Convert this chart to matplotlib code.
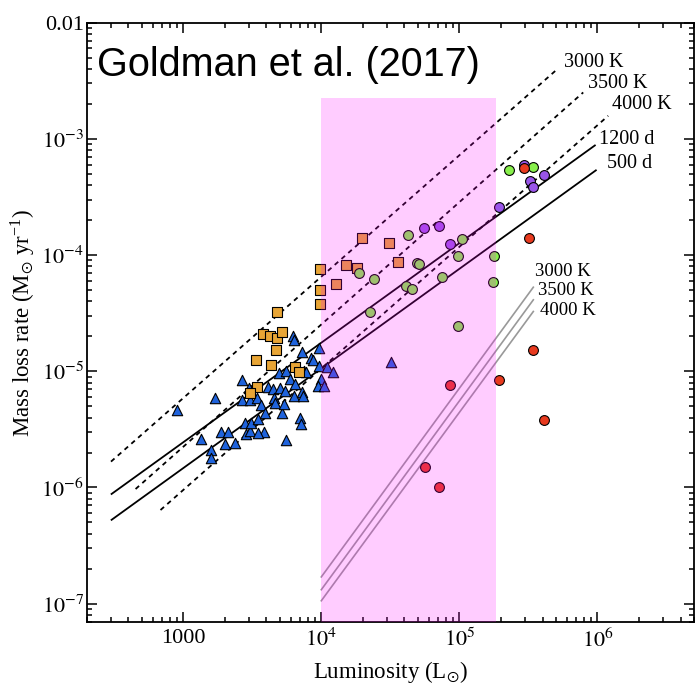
import numpy as np
import matplotlib
matplotlib.use("Agg")
import matplotlib.pyplot as plt
from matplotlib.ticker import LogLocator, FuncFormatter, NullFormatter

plt.rcParams['font.family'] = ['Liberation Serif', 'DejaVu Serif']
plt.rcParams['mathtext.fontset'] = 'stix'

# ---------- Data (luminosity in Lsun, mass loss rate in Msun/yr) ----------
tri_L = [906, 1356, 1602, 1594, 1693, 1876, 2101, 2006, 2361, 2672, 2685, 2981,
         3031, 2822, 2845, 3031, 3118, 3474, 3445, 3652, 3936, 3873, 3462, 4103,
         4475, 4519, 4595, 4912, 5052, 5199, 5401, 5491, 5585, 5585, 5970, 6220,
         6304, 6304, 6412, 7047, 7166, 7252, 7288, 7413, 7447, 7793, 8426, 8683,
         9562, 9562, 9953, 9463, 10510, 10990, 12150, 31900]
tri_M = [4.64e-6, 2.59e-6, 2.10e-6, 1.80e-6, 5.88e-6, 3.03e-6, 3.03e-6, 2.37e-6,
         2.40e-6, 8.36e-6, 5.65e-6, 7.21e-6, 5.71e-6, 3.61e-6, 2.87e-6, 3.07e-6,
         3.59e-6, 3.86e-6, 5.94e-6, 5.15e-6, 4.40e-6, 3.03e-6, 2.96e-6, 7.26e-6,
         6.98e-6, 5.88e-6, 5.36e-6, 9.73e-6, 7.16e-6, 4.36e-6, 5.22e-6, 6.82e-6,
         2.57e-6, 1.00e-5, 8.51e-6, 2.03e-5, 1.87e-5, 6.12e-6, 7.80e-6, 3.93e-6,
         3.52e-6, 1.46e-5, 6.62e-6, 6.12e-6, 1.00e-5, 9.83e-6, 1.29e-5, 1.24e-5,
         1.58e-5, 1.12e-5, 8.65e-6, 7.45e-6, 7.45e-6, 1.08e-5, 9.83e-6, 1.20e-5]

sq_L = [9835, 9721, 9721, 4783, 3763, 4228, 4783, 5199, 4674, 3350, 4350, 6412,
        6934, 3428, 3031, 19700, 30700, 15160, 18110, 35900, 12780]
sq_M = [7.60e-5, 5.02e-5, 3.83e-5, 3.21e-5, 2.09e-5, 2.00e-5, 1.94e-5, 2.18e-5,
        1.53e-5, 1.25e-5, 1.13e-5, 1.09e-5, 9.83e-6, 7.31e-6, 6.45e-6, 1.39e-4,
        1.28e-4, 8.22e-5, 7.69e-5, 8.66e-5, 5.69e-5]

pur_L = [55800, 71300, 85700, 194000, 295000, 322000, 343000, 412000]
pur_M = [1.72e-4, 1.79e-4, 1.25e-4, 2.60e-4, 5.92e-4, 4.30e-4, 3.86e-4, 4.93e-4]

grn_L = [42400, 18730, 23900, 49200, 50900, 105100, 97400, 179000, 41200, 45300,
         75400, 176000, 22600, 97400, 227000, 339000]
grn_M = [1.49e-4, 6.97e-5, 6.19e-5, 8.61e-5, 8.32e-5, 1.37e-4, 9.82e-5, 9.89e-5,
         5.43e-5, 5.08e-5, 6.49e-5, 5.83e-5, 3.24e-5, 2.47e-5, 5.36e-4, 5.75e-4]

red_L = [295000, 321000, 339000, 194000, 410000, 86100, 56200, 71000]
red_M = [5.58e-4, 1.39e-4, 1.51e-5, 8.34e-6, 3.79e-6, 7.55e-6, 1.51e-6, 1.00e-6]

# relations: endpoints (L, Mdot)
dash_L = {'3000 K': [300, 5.2e5], '3500 K': [452, 7.88e5], '4000 K': [685, 1.195e6]}
dash_M = {'3000 K': [1.67e-6, 4.05e-3], '3500 K': [9.7e-7, 2.51e-3], '4000 K': [6.4e-7, 1.58e-3]}
solid_L = {'1200 d': [303, 9.57e5], '500 d': [303, 9.73e5]}
solid_M = {'1200 d': [8.8e-7, 8.78e-4], '500 d': [5.27e-7, 5.36e-4]}
gray_L = [1e4, 3.43e5]
gray_M = {'3000 K': [1.70e-7, 5.29e-5], '3500 K': [1.32e-7, 4.12e-5], '4000 K': [1.06e-7, 3.27e-5]}

span_L = [1e4, 1.84e5]
span_top = 2.25e-3

# ---------- Plot ----------
fig = plt.figure(figsize=(6.95, 6.85), dpi=100)
ax = fig.add_axes([0.1247, 0.0924, 0.8739, 0.8745])
ax.set_xscale('log')
ax.set_yscale('log')
ax.set_xlim(200, 5e6)
ax.set_ylim(7e-8, 1e-2)

dash = (0, (2.6, 2.4))
for k in dash_L:
    ax.plot(dash_L[k], dash_M[k], color='black', lw=1.3, ls=dash, zorder=2)
for k in solid_L:
    ax.plot(solid_L[k], solid_M[k], color='black', lw=1.3, zorder=2)
for k in gray_M:
    ax.plot(gray_L, gray_M[k], color='#999999', lw=1.2, zorder=2)

ms = 50
ax.scatter(tri_L, tri_M, marker='^', s=56, c='#1f63dc', edgecolors='black', linewidths=0.8, zorder=3)
ax.scatter(sq_L, sq_M, marker='s', s=48, c='#e8a535', edgecolors='black', linewidths=0.8, zorder=3)
ax.scatter(pur_L, pur_M, marker='o', s=ms, c='#9a55ea', edgecolors='black', linewidths=0.8, zorder=3)
ax.scatter(grn_L, grn_M, marker='o', s=ms, c='#88f04c', edgecolors='black', linewidths=0.8, zorder=3)
ax.scatter(red_L, red_M, marker='o', s=ms, c='#e83a1e', edgecolors='black', linewidths=0.8, zorder=3)

# pink band drawn over everything
ax.fill_between(span_L, 7e-8, span_top, color='magenta', alpha=0.2, lw=0, zorder=10)

# line labels
fs = 14.5
ax.text(5.72e5, 4.54e-3, '3000 K', fontsize=fs, va='center', ha='left')
ax.text(8.57e5, 3.02e-3, '3500 K', fontsize=fs, va='center', ha='left')
ax.text(1.265e6, 1.99e-3, '4000 K', fontsize=fs, va='center', ha='left')
ax.text(1.03e6, 9.94e-4, '1200 d', fontsize=fs, va='center', ha='left')
ax.text(1.164e6, 6.19e-4, '500 d', fontsize=fs, va='center', ha='left')
gs = 13.5
ax.text(3.52e5, 7.21e-5, '3000 K', fontsize=gs, va='center', ha='left')
ax.text(3.69e5, 4.91e-5, '3500 K', fontsize=gs, va='center', ha='left')
ax.text(3.83e5, 3.34e-5, '4000 K', fontsize=gs, va='center', ha='left')

ax.text(0.0165, 0.911, 'Goldman et al. (2017)', transform=ax.transAxes,
        fontsize=28.5, family='Liberation Sans', va='baseline', ha='left')

# ---------- Ticks ----------
def xfmt(v, pos):
    e = int(round(np.log10(v)))
    return '1000' if e == 3 else r'$10^{%d}$' % e

def yfmt(v, pos):
    e = int(round(np.log10(v)))
    return '0.01' if e == -2 else r'$10^{%d}$' % e

ax.xaxis.set_major_locator(LogLocator(base=10, numticks=12))
ax.xaxis.set_minor_locator(LogLocator(base=10, subs=np.arange(2, 10), numticks=12))
ax.yaxis.set_major_locator(LogLocator(base=10, numticks=12))
ax.yaxis.set_minor_locator(LogLocator(base=10, subs=np.arange(2, 10), numticks=12))
ax.xaxis.set_major_formatter(FuncFormatter(xfmt))
ax.yaxis.set_major_formatter(FuncFormatter(yfmt))
ax.xaxis.set_minor_formatter(NullFormatter())
ax.yaxis.set_minor_formatter(NullFormatter())

ax.tick_params(which='both', direction='in', top=True, right=True, width=1.1, labelsize=16)
ax.tick_params(which='major', length=7)
ax.tick_params(which='minor', length=3.8)
ax.tick_params(axis='x', pad=5)
ax.tick_params(axis='y', pad=2)
for s in ax.spines.values():
    s.set_linewidth(1.3)

ax.set_xlabel(r'Luminosity (L$_{\odot}$)', fontsize=16.5)
ax.set_ylabel(r'Mass loss rate (M$_{\odot}$ yr$^{\mathregular{-1}}$)', fontsize=16.5)
ax.xaxis.set_label_coords(0.5, -0.062)
ax.yaxis.set_label_coords(-0.082, 0.5)

fig.savefig('out.png', dpi=100)
